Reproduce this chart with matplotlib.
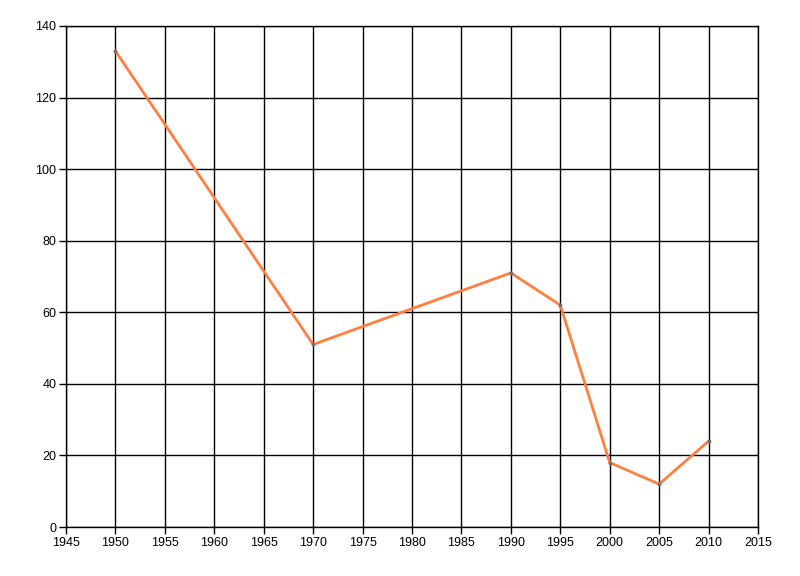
import matplotlib
matplotlib.use("Agg")
import matplotlib.pyplot as plt

years = [1950, 1970, 1990, 1995, 2000, 2005, 2010]
values = [133, 51, 71, 62, 18, 12, 24]

plt.rcParams['font.family'] = ['Liberation Sans', 'DejaVu Sans']

fig = plt.figure(figsize=(8, 5.76), dpi=100)
ax = fig.add_axes([0.0825, 0.085, 0.865, 0.87])

ax.plot(years, values, color='#ff7f3f', linewidth=2, zorder=3)
ax.scatter(years, values, s=3, color='#707070', zorder=4)

ax.set_xlim(1945, 2015)
ax.set_ylim(0, 140)
ax.set_xticks(range(1945, 2016, 5))
ax.set_yticks(range(0, 141, 20))
ax.grid(True, color='black', linewidth=1)
ax.set_axisbelow(True)
for s in ax.spines.values():
    s.set_color('black')
    s.set_linewidth(1)
ax.tick_params(labelsize=9, length=5, width=1, pad=2)

fig.savefig("out.png")
